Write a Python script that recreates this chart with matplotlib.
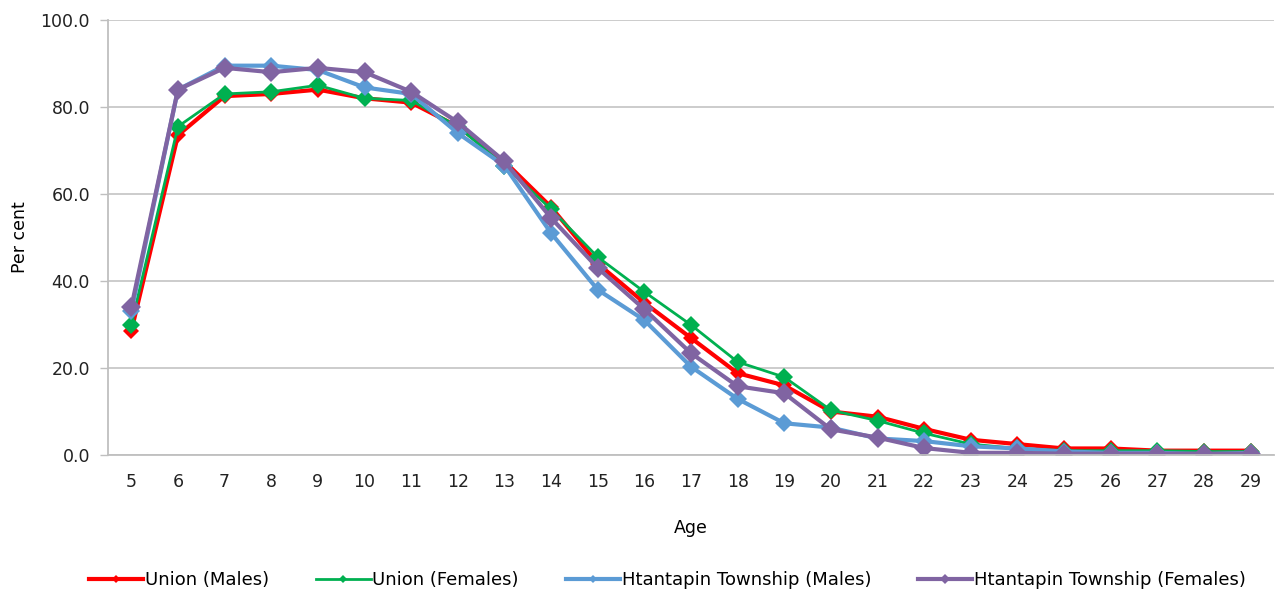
import numpy as np
import matplotlib.pyplot as plt

plt.rcParams['font.family'] = ['DejaVu Sans']

ages = list(range(5, 30))

union_males = [28.5, 73.5, 82.5, 83.0, 84.0, 82.0, 81.0, 75.5, 67.5, 57.0, 44.0, 35.0,
               26.9, 18.8, 16.0, 10.0, 8.8, 6.0, 3.5, 2.5, 1.5, 1.5, 1.0, 1.0, 1.0]
union_females = [30.0, 75.5, 83.0, 83.5, 85.0, 82.0, 81.5, 75.5, 66.5, 56.5, 45.5, 37.5,
                 29.9, 21.4, 17.9, 10.3, 7.9, 5.0, 2.5, 1.5, 1.0, 1.0, 1.0, 0.8, 0.8]
htp_males = [33.0, 84.0, 89.5, 89.5, 88.5, 84.5, 83.0, 74.0, 66.5, 51.0, 38.0, 31.0,
             20.3, 12.9, 7.3, 6.3, 3.8, 3.2, 2.0, 1.5, 0.8, 0.5, 0.5, 0.2, 0.5]
htp_females = [34.0, 84.0, 89.0, 88.0, 89.0, 88.0, 83.5, 76.5, 67.5, 54.5, 43.0, 33.5,
               23.4, 15.8, 14.2, 5.9, 4.0, 1.6, 0.5, 0.5, 0.3, 0.3, 0.3, 0.3, 0.3]

series = [
    ("Union (Males)", union_males, "#ff0000", 3.0, 8),
    ("Union (Females)", union_females, "#00b050", 2.0, 9),
    ("Htantapin Township (Males)", htp_males, "#5b9bd5", 3.0, 9),
    ("Htantapin Township (Females)", htp_females, "#8064a2", 3.0, 10),
]

fig = plt.figure(figsize=(12.83, 5.94), dpi=100)
ax = fig.add_axes([108 / 1283, 1 - 455 / 594, (1274 - 108) / 1283, (455 - 20) / 594])

x = np.arange(len(ages))
for label, vals, color, lw, ms in series:
    ax.plot(x, vals, color=color, lw=lw, marker="D", ms=ms, markeredgewidth=0,
            label=label)

ax.set_xlim(-0.5, len(ages) - 0.5)
ax.set_ylim(0, 100)
ax.set_xticks(x)
ax.set_xticklabels([str(a) for a in ages])
ax.set_yticks(np.arange(0, 101, 20))
ax.set_yticklabels([f"{v:.1f}" for v in np.arange(0, 101, 20)])
ax.tick_params(axis="x", length=0, labelsize=12.5, pad=13, colors="#222222")
ax.tick_params(axis="y", length=6, width=1, color="#bfbfbf", labelsize=12.5, pad=7,
               colors="#222222")
ax.yaxis.grid(True, color="#c8c8c8", lw=1.3)
ax.set_axisbelow(True)
for side in ["top", "right"]:
    ax.spines[side].set_visible(False)
for side in ["left", "bottom"]:
    ax.spines[side].set_color("#bfbfbf")
    ax.spines[side].set_linewidth(1.3)

ax.set_xlabel("Age", fontsize=12.5, labelpad=20)
ax.set_ylabel("Per cent", fontsize=12.5, labelpad=8)

ax.legend(loc="center", bbox_to_anchor=(0.48, -0.287), ncol=4, frameon=False,
          fontsize=13, handlelength=3.0, columnspacing=2.6, handletextpad=0.1,
          markerscale=0.5)

fig.savefig("out.png", dpi=100)
